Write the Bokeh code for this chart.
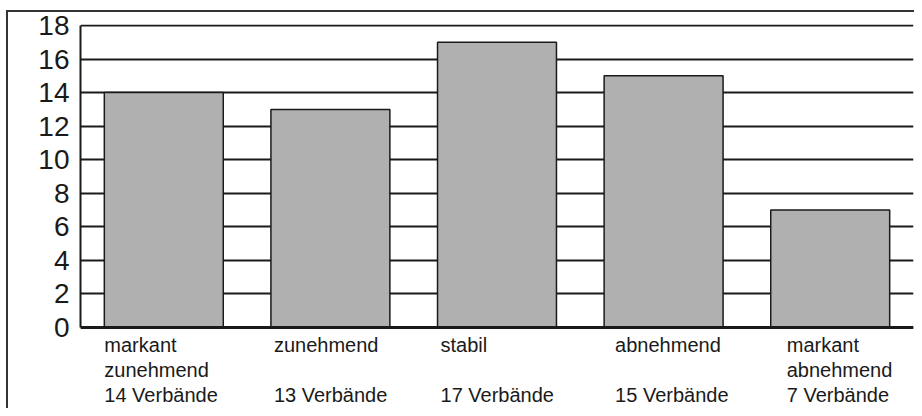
from bokeh.plotting import figure
from bokeh.models import ColumnDataSource, Range1d, FixedTicker, LabelSet, Span
from bokeh.core.properties import value
from bokeh.embed import file_html
from bokeh.resources import INLINE

# ---- data ----
categories = ["markant zunehmend", "zunehmend", "stabil", "abnehmend", "markant abnehmend"]
counts = [14, 13, 17, 15, 7]
category_labels = [
    "markant\nzunehmend\n14 Verbände",
    "zunehmend\n\n13 Verbände",
    "stabil\n\n17 Verbände",
    "abnehmend\n\n15 Verbände",
    "markant\nabnehmend\n7 Verbände",
]
y_ticks = [0, 2, 4, 6, 8, 10, 12, 14, 16, 18]
Y_MAX = 18

# ---- style / layout ----
label_x_offsets_px = [0, 3, 3, 11, 16]
BAR_W = 0.714
FONT = "Liberation Sans"
INK = "#1a1a1a"
W, H = 914, 408
BL, BR, BT = 80, 1, 24
ZERO_FROM_TOP = 303          # px from frame top down to the zero line
Y_TOP = Y_MAX + 0.06
units_per_px = Y_TOP / ZERO_FROM_TOP
y_start = Y_TOP - (H - BT) * units_per_px   # room below zero for the category texts

xs = [i + 0.5 for i in range(len(categories))]
source = ColumnDataSource(dict(x=xs, lx=[x - BAR_W / 2 for x in xs], val=counts,
                               txt=category_labels, xo=label_x_offsets_px))

p = figure(width=W, height=H, output_backend="svg", toolbar_location=None,
           x_range=Range1d(0, len(categories)),
           y_range=Range1d(y_start, Y_TOP),
           min_border_left=BL, min_border_right=BR,
           min_border_top=BT, min_border_bottom=0)

p.outline_line_color = None
p.background_fill_color = "white"
p.border_fill_color = None
p.styles = {
    "background": "linear-gradient(#333,#333) 6px 10px / 2px 2000px no-repeat, "
                  "linear-gradient(#333,#333) 6px 10px / 2000px 2px no-repeat, white",
}

# grid
p.xgrid.grid_line_color = None
p.ygrid.ticker = FixedTicker(ticks=y_ticks)
p.ygrid.grid_line_color = INK
p.ygrid.grid_line_width = 2

p.vbar(x="x", top="val", width=BAR_W, bottom=0, source=source,
       fill_color="#b0b0b0", line_color=INK, line_width=1.5)

# baseline
p.add_layout(Span(location=0, dimension="width", line_color=INK, line_width=3))

# y axis, drawn only over 0..18
p.yaxis.ticker = FixedTicker(ticks=y_ticks)
p.yaxis.bounds = (0, Y_MAX)
p.yaxis.axis_line_color = INK
p.yaxis.axis_line_width = 2
p.yaxis.major_tick_line_color = None
p.yaxis.minor_tick_line_color = None
p.yaxis.major_tick_out = 0
p.yaxis.major_label_standoff = 11
p.yaxis.major_label_text_font = FONT
p.yaxis.major_label_text_font_size = "28px"
p.yaxis.major_label_text_color = INK

p.xaxis.visible = False

labels = LabelSet(x="lx", y=0, text="txt", x_offset="xo", y_offset=-6,
                  source=source,
                  text_font=value(FONT), text_font_size="20px", text_color=INK,
                  text_align="left", text_baseline="top", text_line_height=1.15)
p.add_layout(labels)

open("out.html", "w").write(file_html(p, INLINE))
